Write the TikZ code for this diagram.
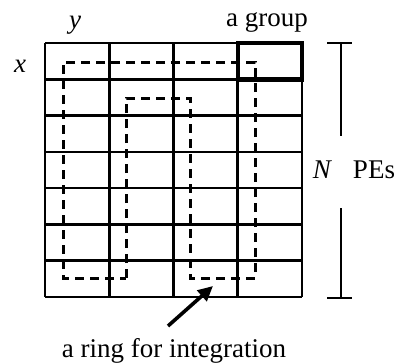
\documentclass[tikz,border=0pt]{standalone}
\usepackage{fontspec}
\setmainfont{Liberation Serif}
\usetikzlibrary{arrows.meta}
\begin{document}
\begin{tikzpicture}[x=1pt,y=-1pt,
  gridline/.style={line width=2.6pt},
  grouprect/.style={line width=4.4pt},
  ringline/.style={line width=3pt,dash pattern=on 9pt off 6pt},
  lbl/.style={font=\fontsize{27}{30}\selectfont,inner sep=0pt,anchor=base},
  pointer/.style={line width=3.6pt,-{Triangle[length=15pt,width=14pt]}}]
\useasboundingbox (0,0) rectangle (399,364);
% grid
\foreach \xx in {45,109.25,173.5,237.75,302}
  \draw[gridline] (\xx,43) -- (\xx,297);
\foreach \yy in {43,79.3,115.6,151.9,188.1,224.4,260.7,297}
  \draw[gridline] (45,\yy) -- (302,\yy);
\draw[grouprect] (237.75,43) rectangle (302,79.3);
% ring
\draw[ringline] (126,278) -- (126,98) -- (190,98) -- (190,278) -- (255,278)
  -- (255,62) -- (63,62) -- (63,278) -- cycle;
% bracket
\draw[gridline] (327,43) -- (352,43);
\draw[gridline] (341,43) -- (341,136);
\draw[gridline] (341,208) -- (341,298);
\draw[gridline] (327,298) -- (352,298);
% labels
\node[lbl] (ylab) at (75,28) {\itshape y};
\node[lbl] (xlab) at (20,72) {\itshape x};
\node[lbl] (grp) at (267,27) {a group};
\node[lbl] (nlab) at (322,178) {\itshape N};
\node[lbl] (pes) at (374,178) {PEs};
\node[lbl] (ring) at (174,357) {a ring for integration};
\coordinate (tail) at (168,326);
\coordinate (tip) at (213,286);
\draw[pointer] (tail) -- (tip);
\end{tikzpicture}
\end{document}
